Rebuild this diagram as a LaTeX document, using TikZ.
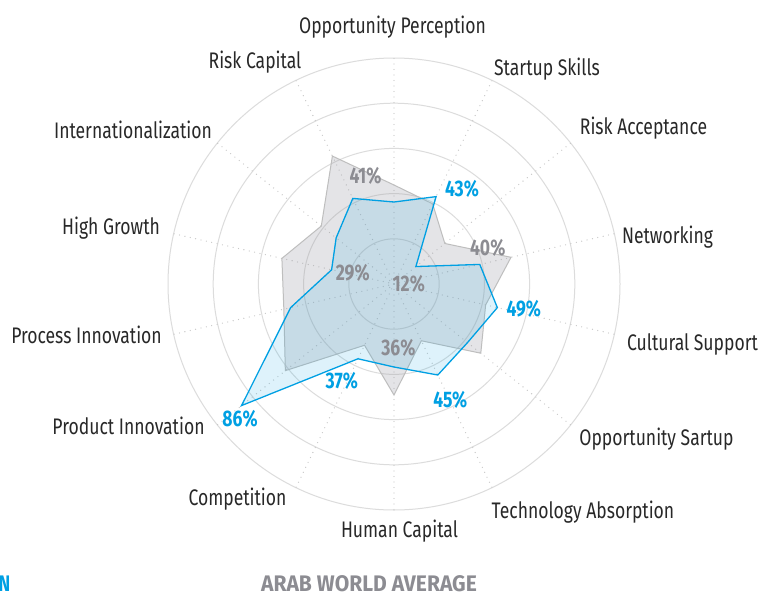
\documentclass[tikz,border=0pt]{standalone}
\usepackage{fontspec}
\usepackage{graphicx}
\setmainfont{Fira Sans}[FakeStretch=0.78]
\usetikzlibrary{calc}
\definecolor{cblue}{RGB}{0,160,227}
\definecolor{gfill}{RGB}{150,150,160}
\definecolor{gline}{RGB}{190,190,190}
\definecolor{glab}{RGB}{140,140,146}
\definecolor{ringc}{RGB}{220,220,220}
\definecolor{spokec}{RGB}{200,200,200}
\definecolor{txt}{RGB}{40,40,40}
\begin{document}
\begin{tikzpicture}[x=1pt,y=1pt,
  lab/.style={font=\fontsize{22.5}{27}\selectfont, text=txt, inner sep=0pt, text height=15.5pt, text depth=0pt},
  pct/.style={font=\fontsize{22.5}{27}\selectfont\bfseries, inner sep=0pt, text height=15.5pt, text depth=0pt},
  bluepct/.style={pct, text=cblue},
  greypct/.style={pct, text=glab},
  ringline/.style={draw=ringc, line width=1pt},
  spokeline/.style={draw=spokec, line width=1.3pt, line cap=round, dash pattern=on 0pt off 5.5pt},
  greypoly/.style={fill=gfill, fill opacity=0.25, draw=gline, draw opacity=1, line width=1pt},
  bluepoly/.style={fill=cblue, fill opacity=0.13, draw=cblue, draw opacity=1, line width=1.3pt}]
\useasboundingbox (0,0) rectangle (759,-597);
\fill[white] (0,0) rectangle (759,-597);
\coordinate (C) at (394,-284);
% rings
\foreach \r in {45.2,90.4,135.6,180.8,226} \draw[ringline] (C) circle (\r);
% spokes
\foreach \i in {0,...,13} {
  \coordinate (s\i) at ($(C)+({90-\i*360/14}:226)$);
  \draw[spokeline] (C) -- (s\i);
}
% data points
\foreach \i/\r in {0/99,1/89,2/65,3/120,4/94,5/111,6/63,7/111,8/68,9/139,10/113,11/115,12/93,13/142}
  \coordinate (g\i) at ($(C)+({90-\i*360/14}:\r)$);
\foreach \i/\r in {0/82,1/97,2/28,3/88,4/106,5/94,6/101,7/83,8/83,9/195,10/106,11/64,12/74,13/95}
  \coordinate (b\i) at ($(C)+({90-\i*360/14}:\r)$);
\path[greypoly] (g0) -- (g1) -- (g2) -- (g3) -- (g4) -- (g5) -- (g6) -- (g7) -- (g8) -- (g9) -- (g10) -- (g11) -- (g12) -- (g13) -- cycle;
\path[bluepoly] (b0) -- (b1) -- (b2) -- (b3) -- (b4) -- (b5) -- (b6) -- (b7) -- (b8) -- (b9) -- (b10) -- (b11) -- (b12) -- (b13) -- cycle;
% axis labels
\node[lab] (l0) at (392.5,-26) {Opportunity Perception};
\node[lab] (l1) at (547,-68) {Startup Skills};
\node[lab] (l2) at (643.5,-127) {Risk Acceptance};
\node[lab] (l3) at (667.5,-236) {Networking};
\node[lab] (l4) at (692.5,-343) {Cultural Support};
\node[lab] (l5) at (656.5,-438) {Opportunity Sartup};
\node[lab] (l6) at (583,-511) {Technology Absorption};
\node[lab] (l7) at (399.5,-530) {Human Capital};
\node[lab] (l8) at (237.5,-498) {Competition};
\node[lab] (l9) at (128.5,-427) {Product Innovation};
\node[lab] (l10) at (86.5,-336) {Process Innovation};
\node[lab] (l11) at (111,-227) {High Growth};
\node[lab] (l12) at (133,-131) {Internationalization};
\node[lab] (l13) at (255,-61) {Risk Capital};
% value labels
\node[greypct] (p41) at (365.5,-176) {41\%};
\node[bluepct] (p43) at (462,-188.5) {43\%};
\node[greypct] (p40) at (487.7,-248) {40\%};
\node[greypct] (p12) at (408.7,-284) {12\%};
\node[greypct] (p29) at (352.7,-272.5) {29\%};
\node[bluepct] (p49) at (523.8,-308.3) {49\%};
\node[greypct] (p36) at (398.3,-347.5) {36\%};
\node[bluepct] (p37) at (341.8,-381) {37\%};
\node[bluepct] (p45) at (450.3,-399.5) {45\%};
\node[bluepct] (p86) at (240,-418.8) {86\%};
% legend
\node[bluepct, anchor=east] (legA) at (10.5,-584) {N};
\node[greypct] (legB) at (369,-584) {\scalebox{1.2}[1]{ARAB WORLD AVERAGE}};
\end{tikzpicture}
\end{document}
